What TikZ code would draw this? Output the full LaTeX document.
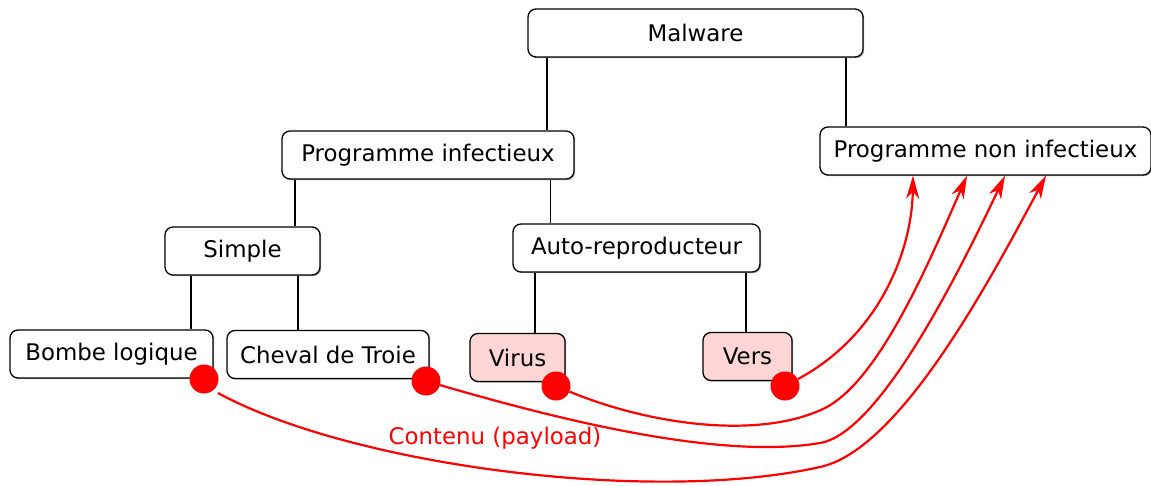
\documentclass[tikz,border=0pt]{standalone}
\usepackage{fontspec}
\setmainfont{DejaVu Sans}
\usetikzlibrary{arrows.meta,shadows}
\definecolor{pinkfill}{RGB}{255,213,213}
\tikzset{
  box/.style={draw=black, line width=1.3pt, rounded corners=8pt, fill=white,
    minimum height=48pt, inner sep=0pt, font=\fontsize{22.9}{27}\selectfont,
    drop shadow={shadow xshift=1.2pt, shadow yshift=-1.2pt, fill=black, opacity=0.35}},
  pinkbox/.style={box, fill=pinkfill},
  link/.style={line width=2.2pt},
  thinlink/.style={line width=1pt},
  dot/.style={circle, fill=red, minimum size=29pt, inner sep=0pt},
  payload/.style={draw=red, line width=2.2pt, -{Stealth[length=23pt,width=13pt,inset=7pt]}},
}
\begin{document}
\begin{tikzpicture}[x=1pt,y=-1pt]
\useasboundingbox (0,0) rectangle (1151,485);
\node[box, minimum width=335pt] (mal) at (695.5,33) {Malware};
\node[box, minimum width=331pt] (pni) at (985.5,151) {Programme non infectieux};
\node[box, minimum width=292pt] (pi) at (428,155) {Programme infectieux};
\node[box, minimum width=155pt] (simple) at (242.5,251) {Simple};
\node[box, minimum width=247pt] (auto) at (636.5,248) {Auto-reproducteur};
\node[box, minimum width=203pt] (bombe) at (111.5,354) {Bombe logique};
\node[box, minimum width=202pt] (cheval) at (328,354.5) {Cheval de Troie};
\node[pinkbox, minimum width=95pt] (virus) at (517.5,357.5) {Virus};
\node[pinkbox, minimum width=89pt] (vers) at (747.5,356.5) {Vers};

\draw[link] ([xshift=-148.5pt]mal.south) -- ([xshift=119pt]pi.north);
\draw[link] ([xshift=150.5pt]mal.south) -- ([xshift=-139.5pt]pni.north);
\draw[link] ([xshift=-133pt]pi.south) -- ([xshift=52.5pt]simple.north);
\draw[thinlink] ([xshift=122pt]pi.south) -- ([xshift=-86.5pt]auto.north);
\draw[link] ([xshift=-51.5pt]simple.south) -- ([xshift=79.5pt]bombe.north);
\draw[link] ([xshift=55.5pt]simple.south) -- ([xshift=-30pt]cheval.north);
\draw[link] ([xshift=-101.5pt]auto.south) -- ([xshift=17.5pt]virus.north);
\draw[link] ([xshift=109.5pt]auto.south) -- ([xshift=-1.5pt]vers.north);

\node[dot] (d1) at (204,379) {};
\node[dot] (d2) at (426,381) {};
\node[dot] (d3) at (556,386) {};
\node[dot] (d4) at (785,386) {};

\draw[payload] (d4) .. controls (880,335) and (912,250) .. ([xshift=-72.5pt]pni.south);
\draw[payload] (d3) .. controls (650,425) and (760,440) .. (825,408)
  .. controls (880,380) and (930,260) .. ([xshift=-18.5pt]pni.south);
\draw[payload] (d2) .. controls (560,420) and (720,460) .. (820,443)
  .. controls (880,433) and (960,270) .. ([xshift=19.5pt]pni.south);
\draw[payload] ([shift={(14,14)}]d1.center) .. controls (350,465) and (650,505) .. (820,467)
  .. controls (900,450) and (990,280) .. ([xshift=60.5pt]pni.south);

\node[text=red, font=\fontsize{22.9}{27}\selectfont, inner sep=0pt] (lbl) at (495,438) {Contenu (payload)};
\end{tikzpicture}
\end{document}
